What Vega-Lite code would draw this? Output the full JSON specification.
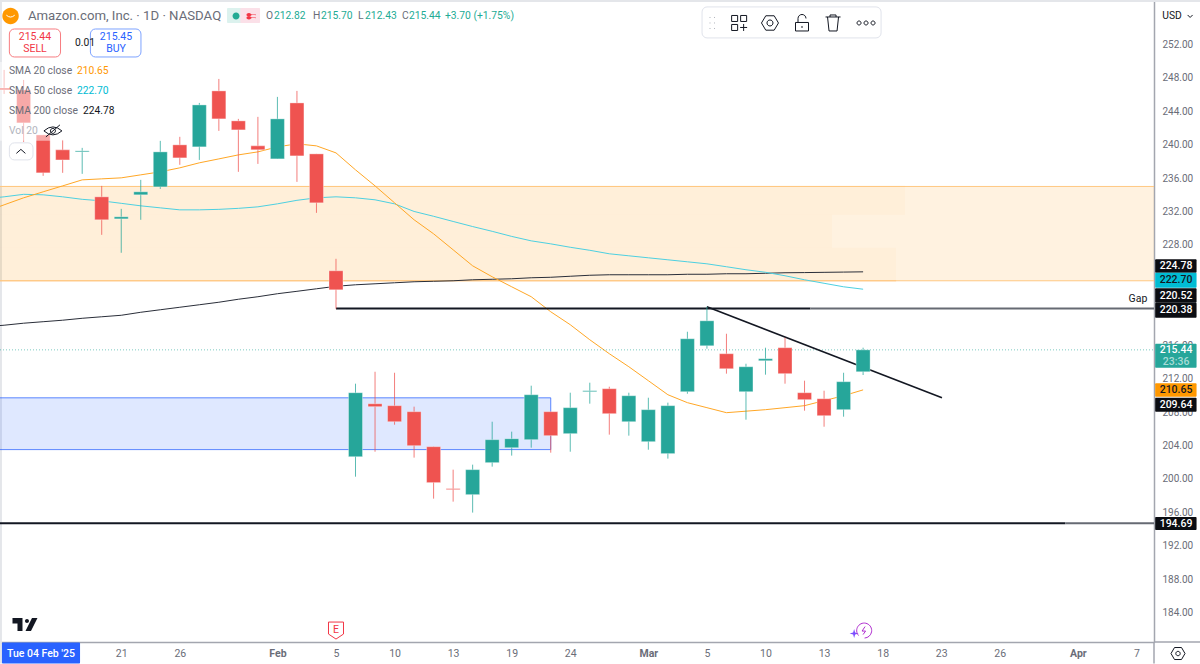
{
  "$schema": "https://vega.github.io/schema/vega-lite/v6.json",
  "width": 1154,
  "height": 642,
  "autosize": {"type": "none"},
  "padding": {"left": 0, "top": 0, "right": 46, "bottom": 22},
  "background": "#ffffff",
  "view": {"stroke": null},
  "config": {"font": "Roboto"},
  "datasets": {
    "candles": [
      {"bar": -17, "open": 246.8, "high": 248.95, "low": 246.08, "close": 246.56, "kind": "down"},
      {"bar": -16, "open": 246.56, "high": 247.75, "low": 240.34, "close": 242.61, "kind": "down"},
      {"bar": -15, "open": 241.17, "high": 241.17, "low": 236.27, "close": 236.63, "kind": "down"},
      {"bar": -14, "open": 239.38, "high": 240.57, "low": 236.63, "close": 238.18, "kind": "down"},
      {"bar": -13, "open": 239.14, "high": 239.62, "low": 236.51, "close": 239.26, "kind": "up"},
      {"bar": -12, "open": 233.76, "high": 235.07, "low": 229.21, "close": 231.01, "kind": "down"},
      {"bar": -11, "open": 231.12, "high": 232.32, "low": 227.06, "close": 231.37, "kind": "up"},
      {"bar": -10, "open": 234.0, "high": 235.79, "low": 231.01, "close": 234.36, "kind": "up"},
      {"bar": -9, "open": 234.95, "high": 240.46, "low": 234.71, "close": 239.14, "kind": "up"},
      {"bar": -8, "open": 239.98, "high": 240.94, "low": 237.59, "close": 238.42, "kind": "down"},
      {"bar": -7, "open": 239.74, "high": 245.0, "low": 238.18, "close": 244.76, "kind": "up"},
      {"bar": -6, "open": 246.44, "high": 247.87, "low": 241.65, "close": 243.09, "kind": "down"},
      {"bar": -5, "open": 242.85, "high": 243.09, "low": 236.75, "close": 241.77, "kind": "down"},
      {"bar": -4, "open": 239.86, "high": 243.33, "low": 237.7, "close": 239.38, "kind": "down"},
      {"bar": -3, "open": 238.3, "high": 245.72, "low": 238.3, "close": 243.09, "kind": "up"},
      {"bar": -2, "open": 245.0, "high": 246.44, "low": 235.55, "close": 238.66, "kind": "down"},
      {"bar": -1, "open": 238.9, "high": 238.9, "low": 231.84, "close": 233.04, "kind": "down"},
      {"bar": 0, "open": 224.91, "high": 226.34, "low": 220.36, "close": 222.63, "kind": "down"},
      {"bar": 1, "open": 202.66, "high": 211.39, "low": 200.26, "close": 210.31, "kind": "up"},
      {"bar": 2, "open": 208.99, "high": 212.82, "low": 203.25, "close": 208.64, "kind": "down"},
      {"bar": 3, "open": 208.76, "high": 212.7, "low": 206.48, "close": 206.84, "kind": "down"},
      {"bar": 4, "open": 208.04, "high": 208.64, "low": 202.54, "close": 203.97, "kind": "down"},
      {"bar": 5, "open": 203.85, "high": 203.85, "low": 197.63, "close": 199.55, "kind": "down"},
      {"bar": 6, "open": 198.83, "high": 201.1, "low": 197.27, "close": 198.71, "kind": "down"},
      {"bar": 7, "open": 198.11, "high": 201.7, "low": 195.96, "close": 201.1, "kind": "up"},
      {"bar": 8, "open": 201.94, "high": 206.84, "low": 201.46, "close": 204.69, "kind": "up"},
      {"bar": 9, "open": 203.73, "high": 205.65, "low": 202.78, "close": 204.81, "kind": "up"},
      {"bar": 10, "open": 204.69, "high": 211.15, "low": 203.73, "close": 210.07, "kind": "up"},
      {"bar": 11, "open": 208.04, "high": 208.04, "low": 203.13, "close": 205.17, "kind": "down"},
      {"bar": 12, "open": 205.41, "high": 210.31, "low": 203.25, "close": 208.52, "kind": "up"},
      {"bar": 13, "open": 210.43, "high": 211.51, "low": 209.0, "close": 210.55, "kind": "up"},
      {"bar": 14, "open": 210.79, "high": 211.03, "low": 205.29, "close": 207.8, "kind": "down"},
      {"bar": 15, "open": 206.84, "high": 210.31, "low": 205.17, "close": 209.95, "kind": "up"},
      {"bar": 16, "open": 204.45, "high": 209.71, "low": 203.49, "close": 208.28, "kind": "up"},
      {"bar": 17, "open": 203.02, "high": 209.12, "low": 202.42, "close": 208.76, "kind": "up"},
      {"bar": 18, "open": 210.43, "high": 217.61, "low": 210.19, "close": 216.77, "kind": "up"},
      {"bar": 19, "open": 215.93, "high": 220.6, "low": 215.58, "close": 218.92, "kind": "up"},
      {"bar": 20, "open": 214.98, "high": 217.37, "low": 212.59, "close": 213.18, "kind": "down"},
      {"bar": 21, "open": 210.43, "high": 213.78, "low": 207.08, "close": 213.42, "kind": "up"},
      {"bar": 22, "open": 214.14, "high": 215.7, "low": 212.47, "close": 214.38, "kind": "up"},
      {"bar": 23, "open": 215.7, "high": 216.89, "low": 211.39, "close": 212.59, "kind": "down"},
      {"bar": 24, "open": 210.31, "high": 211.75, "low": 208.16, "close": 209.48, "kind": "down"},
      {"bar": 25, "open": 209.59, "high": 210.55, "low": 206.24, "close": 207.56, "kind": "down"},
      {"bar": 26, "open": 208.28, "high": 212.7, "low": 207.44, "close": 211.63, "kind": "up"},
      {"bar": 27, "open": 212.82, "high": 215.7, "low": 212.43, "close": 215.44, "kind": "up"}
    ],
    "sma": [
      {"bar": -18, "sma20": 231.96, "sma50": 233.52, "sma200": 218.21},
      {"bar": -17, "sma20": 232.8, "sma50": 233.76, "sma200": 218.39},
      {"bar": -16, "sma20": 233.64, "sma50": 234.06, "sma200": 218.63},
      {"bar": -15, "sma20": 234.36, "sma50": 234.0, "sma200": 218.81},
      {"bar": -14, "sma20": 235.07, "sma50": 233.76, "sma200": 218.99},
      {"bar": -13, "sma20": 235.79, "sma50": 233.46, "sma200": 219.22},
      {"bar": -12, "sma20": 235.91, "sma50": 233.28, "sma200": 219.4},
      {"bar": -11, "sma20": 236.03, "sma50": 232.98, "sma200": 219.58},
      {"bar": -10, "sma20": 236.39, "sma50": 232.68, "sma200": 219.94},
      {"bar": -9, "sma20": 236.75, "sma50": 232.44, "sma200": 220.24},
      {"bar": -8, "sma20": 237.23, "sma50": 232.2, "sma200": 220.54},
      {"bar": -7, "sma20": 237.83, "sma50": 232.2, "sma200": 220.84},
      {"bar": -6, "sma20": 238.3, "sma50": 232.26, "sma200": 221.14},
      {"bar": -5, "sma20": 238.78, "sma50": 232.38, "sma200": 221.5},
      {"bar": -4, "sma20": 239.14, "sma50": 232.56, "sma200": 221.8},
      {"bar": -3, "sma20": 239.74, "sma50": 232.92, "sma200": 222.16},
      {"bar": -2, "sma20": 240.1, "sma50": 233.34, "sma200": 222.45},
      {"bar": -1, "sma20": 239.86, "sma50": 233.64, "sma200": 222.75},
      {"bar": 0, "sma20": 239.02, "sma50": 233.76, "sma200": 223.05},
      {"bar": 1, "sma20": 236.99, "sma50": 233.64, "sma200": 223.23},
      {"bar": 2, "sma20": 235.07, "sma50": 233.4, "sma200": 223.35},
      {"bar": 3, "sma20": 233.04, "sma50": 232.92, "sma200": 223.47},
      {"bar": 4, "sma20": 231.01, "sma50": 232.01, "sma200": 223.59},
      {"bar": 5, "sma20": 229.33, "sma50": 231.43, "sma200": 223.65},
      {"bar": 6, "sma20": 227.42, "sma50": 230.81, "sma200": 223.71},
      {"bar": 7, "sma20": 225.5, "sma50": 230.2, "sma200": 223.83},
      {"bar": 8, "sma20": 224.19, "sma50": 229.63, "sma200": 223.89},
      {"bar": 9, "sma20": 222.99, "sma50": 229.02, "sma200": 223.95},
      {"bar": 10, "sma20": 221.8, "sma50": 228.49, "sma200": 224.07},
      {"bar": 11, "sma20": 220.0, "sma50": 228.13, "sma200": 224.13},
      {"bar": 12, "sma20": 218.45, "sma50": 227.72, "sma200": 224.25},
      {"bar": 13, "sma20": 216.65, "sma50": 227.36, "sma200": 224.37},
      {"bar": 14, "sma20": 214.98, "sma50": 226.94, "sma200": 224.43},
      {"bar": 15, "sma20": 213.42, "sma50": 226.7, "sma200": 224.43},
      {"bar": 16, "sma20": 211.75, "sma50": 226.46, "sma200": 224.43},
      {"bar": 17, "sma20": 210.07, "sma50": 226.22, "sma200": 224.43},
      {"bar": 18, "sma20": 209.12, "sma50": 225.98, "sma200": 224.49},
      {"bar": 19, "sma20": 208.52, "sma50": 225.74, "sma200": 224.49},
      {"bar": 20, "sma20": 207.92, "sma50": 225.39, "sma200": 224.55},
      {"bar": 21, "sma20": 208.1, "sma50": 225.03, "sma200": 224.55},
      {"bar": 22, "sma20": 208.28, "sma50": 224.73, "sma200": 224.61},
      {"bar": 23, "sma20": 208.52, "sma50": 224.31, "sma200": 224.67},
      {"bar": 24, "sma20": 208.76, "sma50": 223.83, "sma200": 224.69},
      {"bar": 25, "sma20": 209.36, "sma50": 223.41, "sma200": 224.72},
      {"bar": 26, "sma20": 209.95, "sma50": 222.99, "sma200": 224.75},
      {"bar": 27, "sma20": 210.65, "sma50": 222.7, "sma200": 224.78}
    ],
    "tags": [
      {"bar": 41.96, "bar2": 44.08, "price": 226.28, "price2": 224.67, "kind": "tagblack"},
      {"bar": 41.96, "bar2": 44.08, "price": 224.67, "price2": 222.87, "kind": "cyan"},
      {"bar": 41.96, "bar2": 44.08, "price": 222.81, "price2": 221.08, "kind": "tagblack"},
      {"bar": 41.96, "bar2": 44.08, "price": 221.08, "price2": 219.28, "kind": "tagblack"},
      {"bar": 41.96, "bar2": 44.08, "price": 216.17, "price2": 213.31, "kind": "up"},
      {"bar": 41.96, "bar2": 44.08, "price": 211.45, "price2": 209.83, "kind": "orange"},
      {"bar": 41.96, "bar2": 44.08, "price": 209.71, "price2": 208.04, "kind": "tagblack"},
      {"bar": 41.96, "bar2": 44.08, "price": 195.42, "price2": 193.87, "kind": "tagblack"},
      {"bar": -5.58, "bar2": -4.6, "price": 256.37, "price2": 254.57, "kind": "pillgreen"},
      {"bar": -4.9, "bar2": -3.89, "price": 256.37, "price2": 254.57, "kind": "pillpink"},
      {"bar": -17.11, "bar2": -13.11, "price": 180.4, "price2": 177.9, "kind": "blue"}
    ],
    "tagText": [
      {"text": "224.78", "bar": 43.03, "price": 225.5, "kind": "white"},
      {"text": "222.70", "bar": 43.03, "price": 223.76, "kind": "ink"},
      {"text": "220.52", "bar": 43.03, "price": 221.94, "kind": "white"},
      {"text": "220.38", "bar": 43.03, "price": 220.2, "kind": "white"},
      {"text": "215.44", "bar": 43.03, "price": 215.46, "kind": "white"},
      {"text": "23:36", "bar": 43.03, "price": 213.98, "kind": "pale"},
      {"text": "210.65", "bar": 43.03, "price": 210.64, "kind": "ink"},
      {"text": "209.64", "bar": 43.03, "price": 208.88, "kind": "white"},
      {"text": "194.69", "bar": 43.03, "price": 194.65, "kind": "white"},
      {"text": "Tue 04 Feb '25", "bar": -15.11, "price": 179.09, "kind": "white"}
    ],
    "boxes": [
      {"bar": -16.73, "bar2": -14.11, "price": 253.85, "price2": 250.5, "kind": "red"},
      {"bar": -12.58, "bar2": -9.99, "price": 253.85, "price2": 250.5, "kind": "blue"},
      {"bar": -16.73, "bar2": -15.52, "price": 240.22, "price2": 238.18, "kind": "line"},
      {"bar": 18.75, "bar2": 27.92, "price": 256.49, "price2": 252.78, "kind": "line"}
    ],
    "zones": [
      {"bar": -17.21, "bar2": 41.9, "price": 235.0, "price2": 223.71, "share": 0.12},
      {"bar": -17.21, "bar2": 29.15, "price": 235.0, "price2": 231.6, "share": 0.03},
      {"bar": -17.21, "bar2": 25.41, "price": 231.6, "price2": 227.66, "share": 0.03},
      {"bar": -17.21, "bar2": 28.69, "price": 227.66, "price2": 223.71, "share": 0.03}
    ],
    "lines": [
      {"bar": -17.21, "bar2": 41.9, "price": 235.0, "kind": "bandedge"},
      {"bar": -17.21, "bar2": 41.9, "price": 223.71, "kind": "bandedge"},
      {"bar": -17.21, "bar2": 29.15, "price": 235.0, "kind": "bandedge"},
      {"bar": -17.21, "bar2": 28.69, "price": 223.71, "kind": "bandedge"}
    ],
    "levels": [
      {"bar": 0, "bar2": 24.3, "price": 220.38, "kind": "dark"},
      {"bar": 24.3, "bar2": 41.9, "price": 220.38, "kind": "soft"},
      {"bar": -17.21, "bar2": 37.35, "price": 194.69, "kind": "dark"},
      {"bar": 37.35, "bar2": 41.9, "price": 194.69, "kind": "soft"}
    ],
    "frame": [
      {"bar": -17.21, "bar2": -17.11, "price": 257.32, "price2": 177.9},
      {"bar": -17.21, "bar2": 44.26, "price": 257.32, "price2": 257.08}
    ],
    "axisEnds": [
      {"bar": 41.9, "bar2": 44.26, "price": 180.47, "price2": 180.47},
      {"bar": 41.9, "bar2": 41.9, "price": 180.47, "price2": 177.9}
    ],
    "veil": [
      {"bar": -17.21, "bar2": -11.17, "price": 249.91, "price2": 242.73},
      {"bar": -17.21, "bar2": -13.93, "price": 242.73, "price2": 240.46}
    ],
    "textLeft": [
      {"text": "0.01", "bar": -13.37, "price": 252.18, "kind": "ink"},
      {"text": "SMA 20 close", "bar": -16.75, "price": 248.83, "kind": "muted"},
      {"text": "210.65", "bar": -13.27, "price": 248.83, "kind": "orange"},
      {"text": "SMA 50 close", "bar": -16.75, "price": 246.44, "kind": "muted"},
      {"text": "222.70", "bar": -13.27, "price": 246.44, "kind": "cyan"},
      {"text": "SMA 200 close", "bar": -16.75, "price": 244.05, "kind": "muted"},
      {"text": "224.78", "bar": -12.96, "price": 244.05, "kind": "ink"},
      {"text": "Vol 20", "bar": -16.75, "price": 241.65, "kind": "faint"},
      {"text": "USD", "bar": 42.32, "price": 255.41, "kind": "ink"},
      {"text": "O", "bar": -3.59, "price": 255.41, "kind": "muted"},
      {"text": "212.82", "bar": -3.18, "price": 255.41, "kind": "green"},
      {"text": "H", "bar": -1.18, "price": 255.41, "kind": "muted"},
      {"text": "215.70", "bar": -0.77, "price": 255.41, "kind": "green"},
      {"text": "L", "bar": 1.13, "price": 255.41, "kind": "muted"},
      {"text": "212.43", "bar": 1.49, "price": 255.41, "kind": "green"},
      {"text": "C", "bar": 3.38, "price": 255.41, "kind": "muted"},
      {"text": "215.44", "bar": 3.74, "price": 255.41, "kind": "green"},
      {"text": "+3.70 (+1.75%)", "bar": 5.58, "price": 255.41, "kind": "green"}
    ],
    "textMiddle": [
      {"text": "215.44", "bar": -15.42, "price": 252.9, "kind": "red", "weight": "bold"},
      {"text": "SELL", "bar": -15.42, "price": 251.46, "kind": "red", "weight": "normal"},
      {"text": "215.45", "bar": -11.27, "price": 252.9, "kind": "blue", "weight": "bold"},
      {"text": "BUY", "bar": -11.27, "price": 251.46, "kind": "blue", "weight": "normal"},
      {"text": "E", "bar": 0, "price": 181.95, "kind": "red", "weight": "bold"},
      {"text": "Gap", "bar": 41.08, "price": 221.56, "kind": "ink", "weight": "normal"}
    ],
    "iconsFilled": [
      {"icon": "logo", "bar": -15.93, "price": 182.56, "kind": "ink"},
      {"icon": "star", "bar": 26.54, "price": 181.48, "kind": "violet"},
      {"icon": "sun", "bar": -16.67, "price": 255.41, "kind": "orange"},
      {"icon": "dot", "bar": -5.12, "price": 255.41, "kind": "green"},
      {"icon": "wave", "bar": -4.35, "price": 255.41, "kind": "red"}
    ],
    "iconsOutlined": [
      {"icon": "drag", "bar": 19.26, "price": 254.57, "kind": "faint"},
      {"icon": "grid", "bar": 20.65, "price": 254.57, "kind": "ink"},
      {"icon": "hex", "bar": 22.23, "price": 254.57, "kind": "ink"},
      {"icon": "lock", "bar": 23.87, "price": 254.57, "kind": "ink"},
      {"icon": "trash", "bar": 25.46, "price": 254.57, "kind": "ink"},
      {"icon": "more", "bar": 27.15, "price": 254.57, "kind": "ink"},
      {"icon": "eye", "bar": -14.5, "price": 241.65, "kind": "ink"},
      {"icon": "caret", "bar": -16.14, "price": 239.2, "kind": "ink"},
      {"icon": "chevron", "bar": 43.75, "price": 255.41, "kind": "ink"},
      {"icon": "gear", "bar": 43.13, "price": 179.09, "kind": "ink"},
      {"icon": "shield", "bar": 0, "price": 181.84, "kind": "red"},
      {"icon": "flash", "bar": 27.05, "price": 181.84, "kind": "purple"},
      {"icon": "smile", "bar": -16.67, "price": 255.41, "kind": "white"}
    ]
  },
  "encoding": {
    "x": {
      "field": "bar",
      "type": "quantitative",
      "scale": {"domain": [-17.21, 41.9], "nice": false, "zero": false, "padding": 0},
      "axis": {
        "title": null,
        "grid": false,
        "ticks": false,
        "domainColor": "#a3a6af",
        "domainWidth": 1.5,
        "values": [-11, -8, -3, 0, 3, 6, 9, 12, 16, 19, 22, 25, 28, 31, 34, 38, 41],
        "labelExpr": "['21','26','Feb','5','10','13','19','24','Mar','5','10','13','18','23','26','Apr','7'][indexof([-11,-8,-3,0,3,6,9,12,16,19,22,25,28,31,34,38,41],datum.value)]",
        "labelFont": "Roboto",
        "labelFontSize": 10.5,
        "labelColor": "#6a6d78",
        "labelFontWeight": {"condition": {"test": "indexof([-3,16,38],datum.value)>=0", "value": "bold"}, "value": "normal"},
        "labelPadding": 6,
        "labelOverlap": false,
        "labelFlush": false
      }
    },
    "y": {
      "field": "price",
      "type": "quantitative",
      "scale": {"domain": [180.47, 257.32], "nice": false, "zero": false},
      "axis": {
        "orient": "right",
        "title": null,
        "grid": false,
        "ticks": false,
        "domainColor": "#a3a6af",
        "domainWidth": 1.5,
        "values": [184, 188, 192, 196, 200, 204, 208, 212, 216, 220, 224, 228, 232, 236, 240, 244, 248, 252],
        "format": ".2f",
        "labelFont": "Roboto",
        "labelFontSize": 10,
        "labelColor": "#6a6d78",
        "labelPadding": 8,
        "labelOverlap": false,
        "labelFlush": false
      }
    },
    "color": {
      "field": "kind",
      "type": "nominal",
      "legend": null,
      "scale": {
        "domain": ["up", "down", "ink", "muted", "green", "red", "blue", "orange", "cyan", "faint", "white", "pale", "tagblack", "pillgreen", "pillpink", "dark", "soft", "bandedge", "purple", "violet", "line"],
        "range": ["#26a69a", "#ef5350", "#131722", "#6a6d78", "#22ab94", "#f23645", "#2962ff", "#ff9800", "#00bcd4", "#b2b5be", "#ffffff", "#a8dcd6", "#0b0d12", "#dcf2ee", "#fbe0e8", "#131722", "#666a73", "#ffc882", "#b02fd0", "#7b4dff", "#e0e3eb"]
      }
    }
  },
  "layer": [
    {
      "data": {"name": "frame"},
      "mark": {"type": "rect", "clip": false},
      "encoding": {"x2": {"field": "bar2"}, "y2": {"field": "price2"}, "color": {"value": "#e4e6ea"}}
    },
    {
      "data": {"name": "zones"},
      "mark": {"type": "rect"},
      "encoding": {
        "x2": {"field": "bar2"},
        "y2": {"field": "price2"},
        "color": {"value": "#ff9800"},
        "opacity": {"field": "share", "type": "quantitative", "scale": null}
      }
    },
    {
      "data": {"name": "lines"},
      "mark": {"type": "rule", "strokeWidth": 1},
      "encoding": {"x2": {"field": "bar2"}}
    },
    {
      "data": {"values": [{"bar": -18, "bar2": 11.0, "price": 209.7, "price2": 203.5}]},
      "mark": {"type": "rect", "clip": true, "fillOpacity": 0.15, "stroke": "#2962ff", "strokeOpacity": 0.75, "strokeWidth": 1},
      "encoding": {"x2": {"field": "bar2"}, "y2": {"field": "price2"}, "color": {"value": "#2962ff"}}
    },
    {
      "data": {"name": "sma"},
      "mark": {"type": "line", "clip": true, "strokeWidth": 1, "interpolate": "linear"},
      "encoding": {"y": {"field": "sma200", "type": "quantitative", "title": null}, "color": {"value": "#2a2e39"}}
    },
    {
      "data": {"name": "sma"},
      "mark": {"type": "line", "clip": true, "strokeWidth": 1, "interpolate": "linear"},
      "encoding": {"y": {"field": "sma50", "type": "quantitative", "title": null}, "color": {"value": "#4dd0e1"}}
    },
    {
      "data": {"name": "sma"},
      "mark": {"type": "line", "clip": true, "strokeWidth": 1, "interpolate": "linear"},
      "encoding": {"y": {"field": "sma20", "type": "quantitative", "title": null}, "color": {"value": "#ffa726"}}
    },
    {
      "data": {"values": [{"bar": -17.21, "bar2": 41.9, "price": 215.44}]},
      "mark": {"type": "rule", "strokeWidth": 1, "strokeDash": [1, 2], "opacity": 0.6},
      "encoding": {"x2": {"field": "bar2"}, "color": {"value": "#26a69a"}}
    },
    {
      "data": {"name": "levels"},
      "mark": {"type": "rule", "strokeWidth": 2},
      "encoding": {"x2": {"field": "bar2"}}
    },
    {
      "data": {"values": [{"bar": 19, "bar2": 31.04, "price": 220.6, "price2": 209.71}]},
      "mark": {"type": "rule", "strokeWidth": 1.6},
      "encoding": {"x2": {"field": "bar2"}, "y2": {"field": "price2"}, "color": {"value": "#131722"}}
    },
    {
      "data": {"name": "candles"},
      "mark": {"type": "rule", "strokeWidth": 1, "opacity": 0.75},
      "encoding": {
        "y": {"field": "low", "type": "quantitative", "title": null},
        "y2": {"field": "high"}
      }
    },
    {
      "data": {"name": "candles"},
      "mark": {"type": "bar", "size": 14, "orient": "vertical", "strokeWidth": 1, "strokeOpacity": 0.35, "stroke": "#ffffff"},
      "encoding": {
        "y": {"field": "open", "type": "quantitative", "title": null},
        "y2": {"field": "close"}
      }
    },
    {
      "data": {"name": "veil"},
      "mark": {"type": "rect", "opacity": 0.5},
      "encoding": {"x2": {"field": "bar2"}, "y2": {"field": "price2"}, "color": {"value": "#ffffff"}}
    },
    {
      "data": {"name": "boxes"},
      "mark": {"type": "rect", "cornerRadius": 5, "fill": "#ffffff", "fillOpacity": 1, "strokeWidth": 1, "clip": false},
      "encoding": {
        "x2": {"field": "bar2"},
        "y2": {"field": "price2"},
        "fill": {"value": "#ffffff"},
        "stroke": {"field": "kind", "type": "nominal", "legend": null,
          "scale": {"domain": ["red", "blue", "line"], "range": ["#f77c80", "#7ea3ff", "#e0e3eb"]}},
        "color": {"value": null}
      }
    },
    {
      "data": {"name": "tags"},
      "mark": {"type": "rect", "cornerRadius": 1, "clip": false},
      "encoding": {"x2": {"field": "bar2"}, "y2": {"field": "price2"}}
    },
    {
      "data": {"name": "axisEnds"},
      "mark": {"type": "rule", "strokeWidth": 1.5, "clip": false},
      "encoding": {"x2": {"field": "bar2"}, "y2": {"field": "price2"}, "color": {"value": "#a3a6af"}}
    },
    {
      "data": {"name": "tagText"},
      "mark": {"type": "text", "font": "Roboto", "fontSize": 10.5, "fontWeight": 500, "align": "center", "baseline": "middle", "clip": false},
      "encoding": {"text": {"field": "text"}}
    },
    {
      "data": {"values": [{"text": "Amazon.com, Inc. · 1D · NASDAQ", "bar": -15.78, "price": 255.41, "kind": "muted"}]},
      "mark": {"type": "text", "font": "Roboto", "fontSize": 13.2, "align": "left", "baseline": "middle", "clip": false},
      "encoding": {"text": {"field": "text"}}
    },
    {
      "data": {"name": "textLeft"},
      "mark": {"type": "text", "font": "Roboto", "fontSize": 10.3, "align": "left", "baseline": "middle", "clip": false},
      "encoding": {"text": {"field": "text"}}
    },
    {
      "data": {"name": "textMiddle"},
      "mark": {"type": "text", "font": "Roboto", "fontSize": 10.5, "align": "center", "baseline": "middle", "clip": false},
      "encoding": {
        "text": {"field": "text"},
        "fontWeight": {"field": "weight", "type": "nominal", "scale": null}
      }
    },
    {
      "data": {"name": "iconsFilled"},
      "mark": {"type": "point", "filled": true, "size": 400, "opacity": 1, "clip": false},
      "encoding": {
        "shape": {
          "field": "icon",
          "type": "nominal",
          "legend": null,
          "scale": {
            "domain": ["drag", "grid", "hex", "lock", "trash", "more", "eye", "caret", "chevron", "gear", "shield", "flash", "smile", "logo", "star", "sun", "dot", "wave"],
            "range": [
              "M-.25,-.55h.1M.2,-.55h.1M-.25,0h.1M.2,0h.1M-.25,.55h.1M.2,.55h.1",
              "M-.75,-.75h.6v.6h-.6z M.15,-.75h.6v.6h-.6z M-.75,.15h.6v.6h-.6z M.45,.1v.7 M.1,.45h.7",
              "M-.85,0L-.42,-.72L.42,-.72L.85,0L.42,.72L-.42,.72Z M.3,0A.3,.3 0 1 1 -.3,0A.3,.3 0 1 1 .3,0Z",
              "M-.65,-.05H.65V.8H-.65Z M-.4,-.05V-.45A.4,.4 0 0 1 .4,-.45 M0,.3v.2",
              "M-.75,-.6H.75 M-.3,-.6V-.8H.3V-.6 M-.55,-.6L-.4,.8H.4L.55,-.6",
              "M-.5,0a.2,.2 0 1 0 -.4,0a.2,.2 0 1 0 .4,0Z M.2,0a.2,.2 0 1 0 -.4,0a.2,.2 0 1 0 .4,0Z M.9,0a.2,.2 0 1 0 -.4,0a.2,.2 0 1 0 .4,0Z",
              "M-.9,0Q0,-.8 .9,0Q0,.8 -.9,0Z M.25,0A.25,.25 0 1 1 -.25,0A.25,.25 0 1 1 .25,0Z M-.7,.6L.7,-.6",
              "M-.45,.2L0,-.2L.45,.2",
              "M-.25,-.1L0,.15L.25,-.1",
              "M-.7,0L-.35,-.6L.35,-.6L.7,0L.35,.6L-.35,.6Z M.22,0A.22,.22 0 1 1 -.22,0A.22,.22 0 1 1 .22,0Z",
              "M-.75,-.85H.75V.35L0,.85L-.75,.35Z",
              "M-.55,.5A.75,.75 0 1 1 .05,.75 M.1,-.4L-.2,.05H.15L-.1,.4",
              "M-.42,-.08Q0,.3 .42,-.08",
              "M-1.25,-.65H-.25V.65H-.75V-.1H-1.25Z M0,-.35a.2,.2 0 1 0 .4,0a.2,.2 0 1 0 -.4,0Z M.7,-.65H1.25L.6,.65H.05Z",
              "M0,-.45L.1,-.1L.45,0L.1,.1L0,.45L-.1,.1L-.45,0L-.1,-.1Z",
              "M.82,0A.82,.82 0 1 1 -.82,0A.82,.82 0 1 1 .82,0Z",
              "M.35,0A.35,.35 0 1 1 -.35,0A.35,.35 0 1 1 .35,0Z",
              "M-.45,-.2Q-.2,-.4 0,-.2T.45,-.2V-.05Q.2,-.25 0,-.05T-.45,-.05Z M-.45,.1Q-.2,-.1 0,.1T.45,.1V.25Q.2,.05 0,.25T-.45,.25Z"
            ]
          }
        }
      }
    },
    {
      "data": {"name": "iconsOutlined"},
      "mark": {"type": "point", "filled": false, "size": 400, "strokeWidth": 1, "opacity": 1, "clip": false},
      "encoding": {
        "shape": {
          "field": "icon",
          "type": "nominal",
          "legend": null,
          "scale": {
            "domain": ["drag", "grid", "hex", "lock", "trash", "more", "eye", "caret", "chevron", "gear", "shield", "flash", "smile", "logo", "star", "sun", "dot", "wave"],
            "range": [
              "M-.25,-.55h.1M.2,-.55h.1M-.25,0h.1M.2,0h.1M-.25,.55h.1M.2,.55h.1",
              "M-.75,-.75h.6v.6h-.6z M.15,-.75h.6v.6h-.6z M-.75,.15h.6v.6h-.6z M.45,.1v.7 M.1,.45h.7",
              "M-.85,0L-.42,-.72L.42,-.72L.85,0L.42,.72L-.42,.72Z M.3,0A.3,.3 0 1 1 -.3,0A.3,.3 0 1 1 .3,0Z",
              "M-.65,-.05H.65V.8H-.65Z M-.4,-.05V-.45A.4,.4 0 0 1 .4,-.45 M0,.3v.2",
              "M-.75,-.6H.75 M-.3,-.6V-.8H.3V-.6 M-.55,-.6L-.4,.8H.4L.55,-.6",
              "M-.5,0a.2,.2 0 1 0 -.4,0a.2,.2 0 1 0 .4,0Z M.2,0a.2,.2 0 1 0 -.4,0a.2,.2 0 1 0 .4,0Z M.9,0a.2,.2 0 1 0 -.4,0a.2,.2 0 1 0 .4,0Z",
              "M-.9,0Q0,-.8 .9,0Q0,.8 -.9,0Z M.25,0A.25,.25 0 1 1 -.25,0A.25,.25 0 1 1 .25,0Z M-.7,.6L.7,-.6",
              "M-.45,.2L0,-.2L.45,.2",
              "M-.25,-.1L0,.15L.25,-.1",
              "M-.7,0L-.35,-.6L.35,-.6L.7,0L.35,.6L-.35,.6Z M.22,0A.22,.22 0 1 1 -.22,0A.22,.22 0 1 1 .22,0Z",
              "M-.75,-.85H.75V.35L0,.85L-.75,.35Z",
              "M-.55,.5A.75,.75 0 1 1 .05,.75 M.1,-.4L-.2,.05H.15L-.1,.4",
              "M-.42,-.08Q0,.3 .42,-.08",
              "M-1.25,-.65H-.25V.65H-.75V-.1H-1.25Z M0,-.35a.2,.2 0 1 0 .4,0a.2,.2 0 1 0 -.4,0Z M.7,-.65H1.25L.6,.65H.05Z",
              "M0,-.45L.1,-.1L.45,0L.1,.1L0,.45L-.1,.1L-.45,0L-.1,-.1Z",
              "M.82,0A.82,.82 0 1 1 -.82,0A.82,.82 0 1 1 .82,0Z",
              "M.35,0A.35,.35 0 1 1 -.35,0A.35,.35 0 1 1 .35,0Z",
              "M-.45,-.2Q-.2,-.4 0,-.2T.45,-.2V-.05Q.2,-.25 0,-.05T-.45,-.05Z M-.45,.1Q-.2,-.1 0,.1T.45,.1V.25Q.2,.05 0,.25T-.45,.25Z"
            ]
          }
        }
      }
    }
  ]
}
